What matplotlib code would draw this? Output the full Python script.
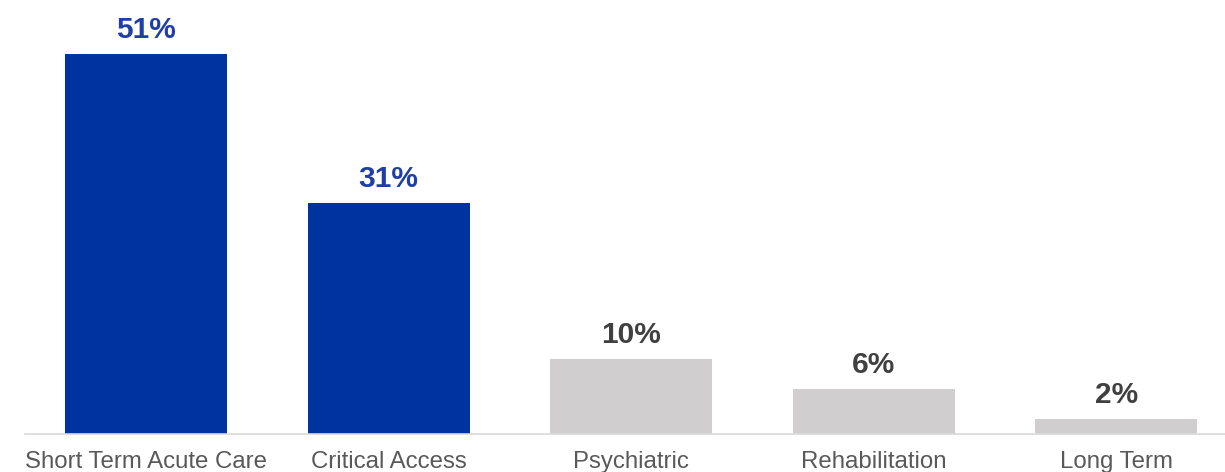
import matplotlib.pyplot as plt

categories = ["Short Term Acute Care", "Critical Access", "Psychiatric", "Rehabilitation", "Long Term"]
values = [51, 31, 10, 6, 2]
labels = ["51%", "31%", "10%", "6%", "2%"]
highlight = [True, True, False, False, False]

plt.rcParams['font.family'] = ['Liberation Sans', 'DejaVu Sans']

fig = plt.figure(figsize=(12.25, 4.72), dpi=100)
ax = fig.add_axes([24.7 / 1225, 38 / 472, 1213 / 1225, 434 / 472])

bar_colors = ["#0033a0" if h else "#d0cece" for h in highlight]
txt_colors = ["#1e3fa6" if h else "#404040" for h in highlight]

x = range(len(categories))
bars = ax.bar(x, values, width=0.667, color=bar_colors)

for b, lab, c in zip(bars, labels, txt_colors):
    ax.annotate(lab, (b.get_x() + b.get_width() / 2, b.get_height()),
                xytext=(0, 7.5), textcoords="offset points",
                ha="center", va="bottom", fontsize=21.5, fontweight="bold", color=c)

ax.set_xlim(-0.5, 4.5)
ax.set_ylim(0, 58.25)
ax.set_xticks(list(x))
ax.set_xticklabels(categories, fontsize=17.3, color="#595959")
ax.tick_params(axis="x", length=0, pad=12.5)
ax.set_yticks([])
for s in ["top", "right", "left"]:
    ax.spines[s].set_visible(False)
ax.spines["bottom"].set_color("#d9d9d9")
ax.spines["bottom"].set_linewidth(1.2)

fig.savefig("out.png", dpi=100)
